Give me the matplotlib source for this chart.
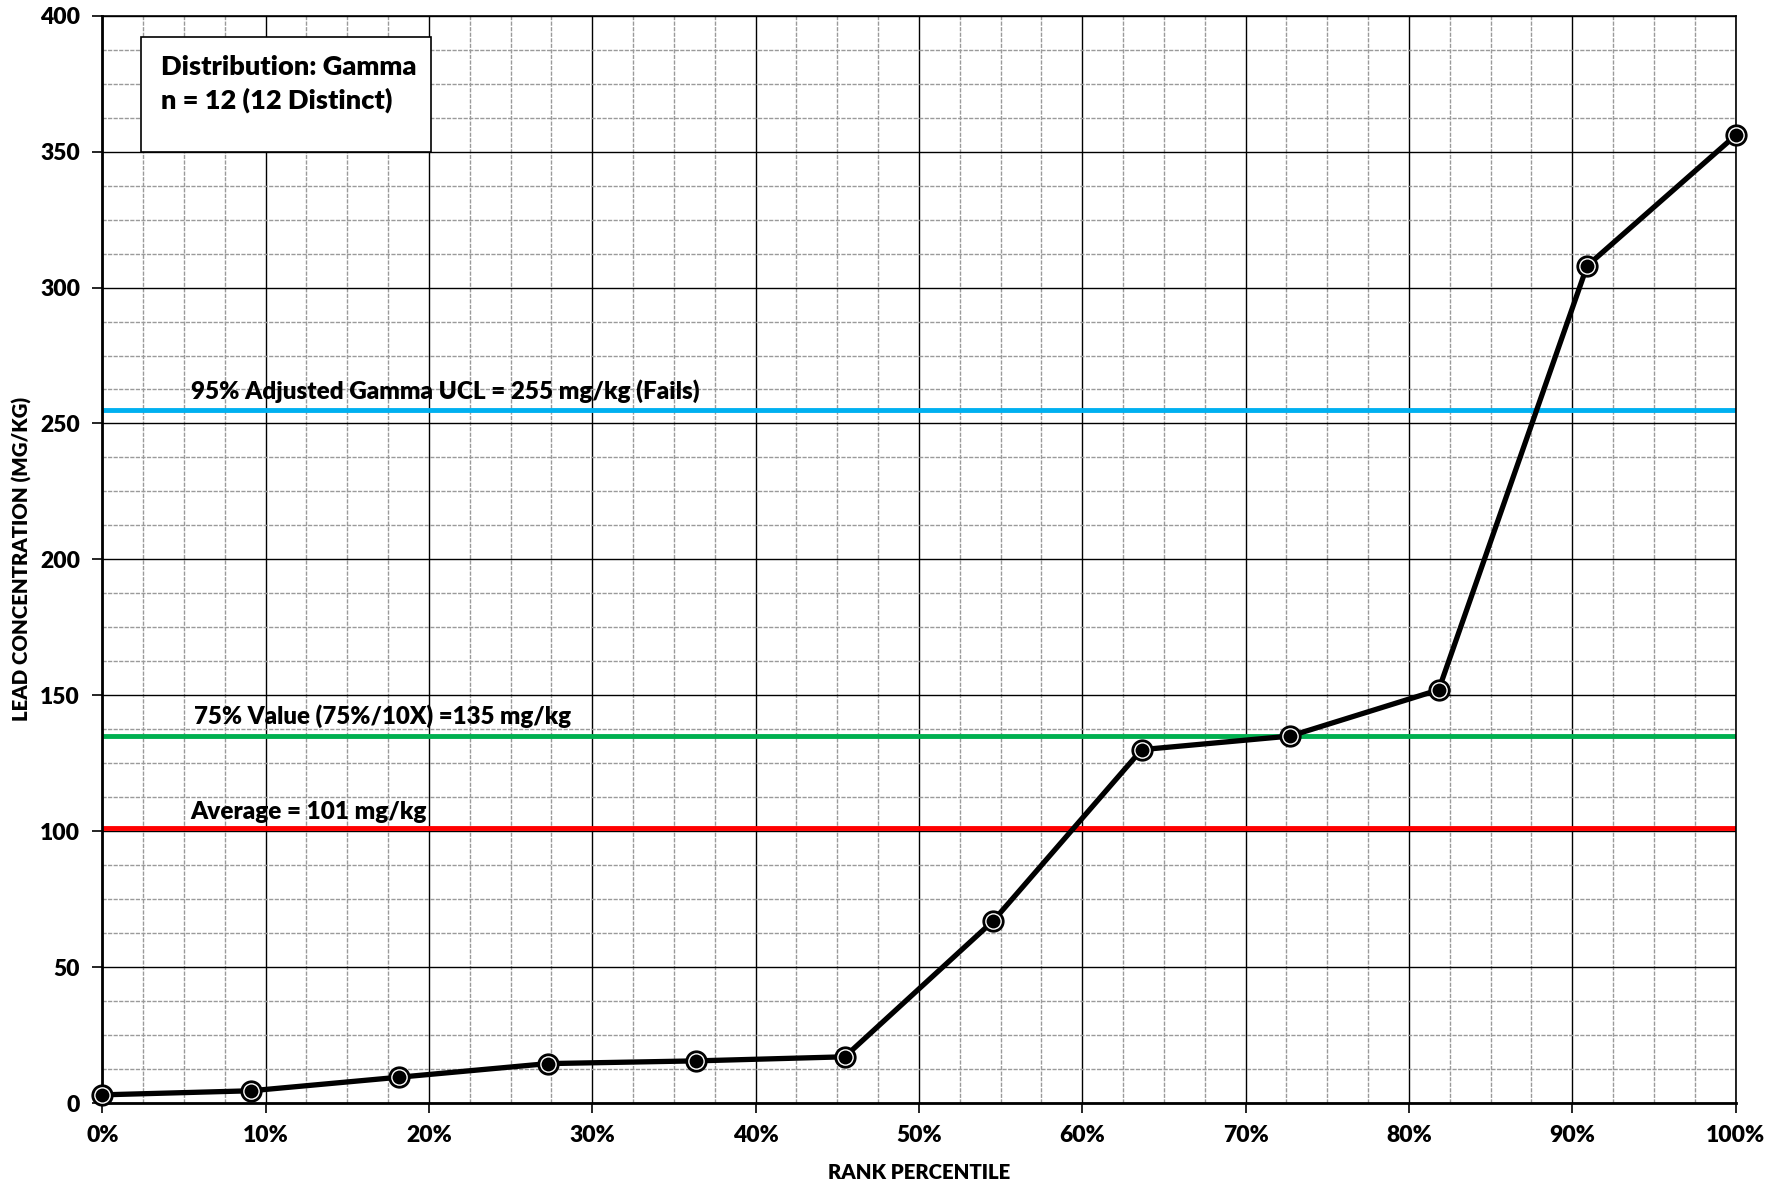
import matplotlib
matplotlib.use("Agg")
import matplotlib.pyplot as plt
from matplotlib.ticker import MultipleLocator, FuncFormatter
from matplotlib.patches import Rectangle

# ---- data ----
rank_pct = [i / 11 for i in range(12)]
lead_conc = [3, 4.5, 9.5, 14.5, 15.5, 17, 67, 130, 135, 152, 308, 356]

ucl_value = 255
p75_value = 135
avg_value = 101
ucl_label = "95% Adjusted Gamma UCL = 255 mg/kg (Fails)"
p75_label = "75% Value (75%/10X) =135 mg/kg"
avg_label = "Average = 101 mg/kg"
box_lines = ["Distribution: Gamma", "n = 12 (12 Distinct)"]
x_title = "RANK PERCENTILE"
y_title = "LEAD CONCENTRATION (MG/KG)"

W = 'heavy'
plt.rcParams['font.family'] = ['Lato', 'DejaVu Sans']
plt.rcParams['font.weight'] = W

fig = plt.figure(figsize=(17.86, 11.84), dpi=100)
ax = fig.add_axes([0.0573, 0.0684, 0.9145, 0.9183])

ax.set_xlim(0, 1)
ax.set_ylim(0, 400)
ax.xaxis.set_major_locator(MultipleLocator(0.1))
ax.xaxis.set_minor_locator(MultipleLocator(0.025))
ax.yaxis.set_major_locator(MultipleLocator(50))
ax.yaxis.set_minor_locator(MultipleLocator(12.5))
ax.xaxis.set_major_formatter(FuncFormatter(lambda v, p: f"{v*100:.0f}%"))

ax.grid(which='major', color='black', lw=1.0, zorder=0)
ax.grid(which='minor', color='#9a9a9a', lw=1.0, ls=(0, (3, 1)), zorder=0)
ax.set_axisbelow(True)

ax.tick_params(which='major', direction='out', length=7, width=1.2, labelsize=16.5, pad=9)
ax.tick_params(which='minor', length=0)
for lab in ax.get_xticklabels() + ax.get_yticklabels():
    lab.set_fontweight(W)

for s in ['left', 'bottom']:
    ax.spines[s].set_linewidth(2)
for s in ['top', 'right']:
    ax.spines[s].set_linewidth(1.2)

# reference lines
ax.axhline(ucl_value, color='#00B0F0', lw=3.5, zorder=2)
ax.axhline(p75_value, color='#00B050', lw=3.5, zorder=2)
ax.axhline(avg_value, color='#FF0000', lw=3.5, zorder=2)

ax.text(0.054, ucl_value + 2.5, ucl_label, fontsize=17.5, fontweight=W, va='bottom', zorder=3)
ax.text(0.056, p75_value + 3, p75_label, fontsize=17.3, fontweight=W, va='bottom', zorder=3)
ax.text(0.054, avg_value + 2, avg_label, fontsize=17.5, fontweight=W, va='bottom', zorder=3)

# data line
ax.plot(rank_pct, lead_conc, color='black', lw=3.8, zorder=4, clip_on=False)
ax.plot(rank_pct, lead_conc, ls='none', marker='o', ms=15, mfc='black', mec='black',
        zorder=5, clip_on=False)
ax.plot(rank_pct, lead_conc, ls='none', marker='o', ms=11, mfc='black', mec='white', mew=1,
        zorder=6, clip_on=False)

# info box
ax.add_patch(Rectangle((0.0237, 350), 0.1774, 42.3, facecolor='white', edgecolor='black',
                       lw=1.2, zorder=3))
ax.text(0.036, 381, box_lines[0], fontsize=19.5, fontweight=W, va='center', zorder=4)
ax.text(0.036, 369, box_lines[1], fontsize=19.5, fontweight=W, va='center', zorder=4)

ax.set_xlabel(x_title, fontsize=14.7, fontweight=W, labelpad=12)
ax.set_ylabel(y_title, fontsize=14.7, fontweight=W, labelpad=6)

fig.savefig("out.png", dpi=100)
